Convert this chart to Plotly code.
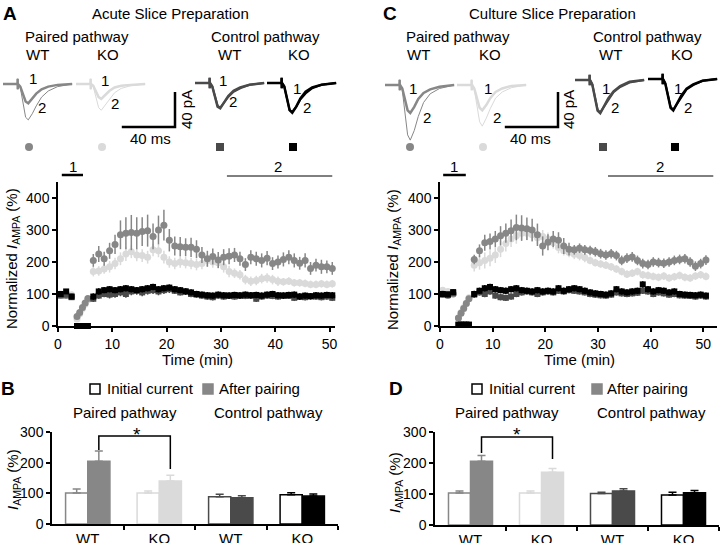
import plotly.graph_objects as go

W, H = 720, 543
FONT = 'Liberation Sans, Arial, sans-serif'
GREY = '#878787'
LIGHT = '#dadada'
DARK = '#4a4a4a'
BLACK = '#000000'

# ---- time course data (min, % of baseline) ----
T = [0.5, 1.5, 2.5, 3.5, 4.0, 4.5, 5.0, 5.5,
     6.5, 7.5, 8.5, 9.5, 10.5, 11.5, 12.5, 13.5, 14.5, 15.5, 16.5, 17.5, 18.5, 19.5, 20.5,
     21.5, 22.5, 23.5, 24.5, 25.5, 26.5, 27.5, 28.5, 29.5, 30.5, 31.5, 32.5, 33.5, 34.5,
     35.5, 36.5, 37.5, 38.5, 39.5, 40.5, 41.5, 42.5, 43.5, 44.5, 45.5, 46.5, 47.5, 48.5,
     49.5, 50.5]

# acute slices
A_WT_PAIRED = [98, 95, 92, 30, 42, 58, 72, 86,
               205, 225, 210, 235, 255, 285, 290, 292, 290, 295, 298, 280, 300, 315, 268,
               250, 248, 246, 246, 240, 222, 210, 217, 206, 215, 218, 222, 210, 192,
               215, 210, 205, 212, 195, 200, 208, 215, 205, 196, 205, 180, 190, 185, 185, 180]
A_WT_PAIRED_ERR = [8, 8, 8, 6, 6, 6, 6, 6,
                   20, 25, 22, 25, 30, 45, 50, 55, 50, 45, 50, 40, 45, 48, 35,
                   30, 30, 28, 30, 28, 25, 25, 25, 25, 25, 25, 22, 22, 20,
                   22, 22, 22, 22, 20, 20, 22, 22, 22, 20, 22, 20, 20, 22, 20, 20]
A_KO_PAIRED = [100, 96, 98, 22, 38, 55, 68, 82,
               170, 172, 178, 185, 195, 210, 225, 232, 222, 220, 215, 238, 235, 215, 200,
               195, 200, 198, 195, 192, 195, 205, 200, 198, 185, 170, 165, 160, 145,
               140, 142, 148, 150, 145, 140, 138, 140, 135, 135, 133, 130, 130, 132, 130, 132]
A_KO_PAIRED_ERR = [8, 8, 8, 5, 5, 5, 5, 5,
                   15, 15, 15, 18, 18, 20, 22, 20, 20, 20, 20, 20, 20, 20, 18,
                   18, 18, 18, 18, 18, 18, 18, 18, 18, 18, 18, 15, 15, 15,
                   15, 15, 15, 15, 15, 15, 12, 12, 12, 12, 12, 12, 12, 12, 12, 12]
A_WT_CTRL = [95, 98, 90, 0, 0, 0, 0, 0,
             85, 95, 100, 98, 100, 105, 100, 108, 110, 105, 110, 112, 108, 112, 115,
             110, 105, 108, 100, 98, 95, 92, 90, 95, 92, 95, 92, 96, 94,
             95, 85, 92, 95, 94, 92, 95, 94, 88, 92, 90, 93, 92, 90, 92, 88]
A_WT_CTRL_ERR = [8, 8, 8, 3, 3, 3, 3, 3,
                 10, 10, 10, 12, 12, 12, 12, 12, 12, 12, 12, 12, 12, 12, 12,
                 10, 10, 10, 10, 10, 10, 10, 10, 10, 10, 10, 10, 10, 10,
                 10, 10, 10, 10, 10, 10, 10, 10, 10, 10, 10, 10, 10, 10, 10, 10]
A_KO_CTRL = [100, 108, 92, 0, 0, 0, 0, 0,
             92, 108, 112, 115, 112, 115, 118, 115, 112, 115, 118, 122, 115, 118, 120,
             115, 112, 108, 105, 100, 98, 96, 95, 98, 96, 95, 97, 95, 98,
             96, 97, 95, 98, 100, 96, 95, 97, 98, 92, 95, 93, 96, 95, 97, 96]
A_KO_CTRL_ERR = [8, 8, 8, 3, 3, 3, 3, 3,
                 10, 10, 10, 10, 10, 10, 10, 10, 10, 10, 10, 10, 10, 10, 10,
                 10, 10, 10, 10, 10, 10, 10, 10, 10, 10, 10, 10, 10, 10,
                 10, 10, 10, 10, 10, 10, 10, 10, 10, 10, 10, 10, 10, 10, 10, 10]

# cultured slices
C_WT_PAIRED = [100, 95, 100, 25, 40, 55, 70, 85,
               208, 235, 260, 264, 272, 282, 290, 298, 308, 306, 304, 300, 285, 250, 262,
               272, 268, 250, 240, 238, 243, 238, 236, 232, 226, 222, 226, 220, 205,
               212, 216, 205, 195, 192, 200, 198, 196, 200, 205, 208, 210, 200, 187, 195, 206]
C_WT_PAIRED_ERR = [5, 5, 5, 5, 5, 5, 5, 5,
                   15, 20, 25, 25, 25, 30, 30, 35, 40, 40, 35, 35, 35, 30, 25,
                   25, 25, 25, 20, 15, 15, 15, 15, 15, 15, 15, 15, 15, 15,
                   15, 15, 15, 15, 15, 15, 15, 15, 15, 15, 15, 15, 15, 15, 15, 15]
C_KO_PAIRED = [112, 108, 102, 25, 42, 58, 72, 88,
               190, 198, 205, 212, 222, 240, 258, 272, 282, 290, 290, 285, 276, 280, 272,
               260, 245, 235, 230, 224, 220, 214, 205, 198, 194, 190, 185, 178, 170,
               162, 165, 170, 160, 158, 155, 152, 156, 150, 154, 158, 152, 150, 156, 160, 155]
C_KO_PAIRED_ERR = [6, 6, 6, 5, 5, 5, 5, 5,
                   20, 22, 25, 25, 25, 25, 25, 25, 25, 22, 22, 22, 20, 20, 20,
                   18, 18, 15, 15, 15, 15, 15, 12, 12, 12, 12, 12, 12, 12,
                   12, 12, 12, 12, 12, 12, 12, 12, 12, 12, 12, 12, 12, 12, 12, 12]
C_WT_CTRL = [98, 100, 103, 4, 4, 4, 4, 4,
             98, 105, 100, 108, 95, 90, 88, 92, 100, 105, 108, 105, 100, 105, 108,
             105, 110, 108, 112, 110, 108, 105, 100, 98, 96, 95, 98, 105, 102,
             100, 102, 104, 110, 108, 100, 105, 102, 98, 100, 96, 95, 94, 92, 95, 92]
C_WT_CTRL_ERR = [8, 8, 8, 3, 3, 3, 3, 3,
                 10, 10, 10, 10, 10, 10, 10, 10, 10, 10, 10, 10, 10, 10, 10,
                 10, 10, 10, 10, 10, 10, 10, 10, 10, 10, 10, 10, 10, 10,
                 10, 10, 10, 10, 10, 10, 10, 10, 10, 10, 10, 10, 10, 10, 10, 10]
C_KO_CTRL = [100, 98, 106, 4, 4, 4, 4, 4,
             100, 110, 118, 122, 115, 112, 110, 115, 118, 112, 110, 108, 112, 108, 110,
             108, 118, 110, 115, 118, 115, 110, 105, 102, 100, 98, 102, 115, 108,
             105, 108, 110, 130, 115, 108, 112, 110, 105, 108, 100, 98, 97, 96, 98, 95]
C_KO_CTRL_ERR = [8, 8, 8, 3, 3, 3, 3, 3,
                 10, 10, 10, 10, 10, 10, 10, 10, 10, 10, 10, 10, 10, 10, 10,
                 10, 10, 10, 10, 10, 10, 10, 10, 10, 10, 10, 10, 10, 10,
                 10, 10, 10, 10, 10, 10, 10, 10, 10, 10, 10, 10, 10, 10, 10, 10]

# ---- bar data: WT paired, KO paired, WT control, KO control ----
GROUP_LABELS = ['WT', 'KO', 'WT', 'KO']
B_INIT = [101, 101, 89, 95]
B_INIT_ERR = [13, 7, 8, 7]
B_AFTER = [205, 140, 86, 91]
B_AFTER_ERR = [33, 19, 6, 7]
D_INIT = [103, 103, 102, 97]
D_INIT_ERR = [7, 7, 4, 9]
D_AFTER = [206, 170, 110, 104]
D_AFTER_ERR = [18, 12, 7, 7]

# ---- example EPSC traces (ms, pA) ----
TR_T = [0, 10.9, 11.0, 11.1, 11.3, 13, 15, 17, 19, 22, 25, 29, 34, 41, 52]
A_TRACES = {
    'wt_p': ([0, 0, 6, -6, 0, -3, -12, -20, -22, -17, -11, -6, -3, -1, 0],
             [0, 0, 6, -6, 0, -4, -22, -38, -41, -34, -25, -15, -8, -3, 0]),
    'ko_p': ([0, 0, 6, -6, 0, -2, -9, -15, -17, -13, -8, -4, -2, -1, 0],
             [0, 0, 6, -6, 0, -3, -16, -27, -30, -24, -17, -10, -5, -2, 0]),
    'wt_c': ([0, 0, 6, -6, 0, -4, -17, -27, -29, -22, -15, -9, -5, -2, 0],
             [0, 0, 6, -6, 0, -4, -16, -26, -28, -22, -16, -10, -6, -2, 0]),
    'ko_c': ([0, 0, 6, -6, 0, -4, -19, -31, -34, -27, -18, -10, -5, -2, 0],
             [0, 0, 6, -6, 0, -4, -19, -31, -33, -27, -19, -12, -6, -2, 0]),
}
C_TRACES = {
    'wt_p': ([0, 0, 6, -6, 0, -4, -18, -29, -32, -25, -16, -9, -5, -2, 0],
             [0, 0, 6, -6, 0, -6, -32, -57, -63, -52, -36, -20, -10, -4, 0]),
    'ko_p': ([0, 0, 6, -6, 0, -4, -16, -26, -29, -23, -15, -8, -4, -1, 0],
             [0, 0, 6, -6, 0, -5, -25, -42, -47, -38, -27, -15, -8, -3, 0]),
    'wt_c': ([0, 0, 6, -6, 0, -5, -22, -35, -38, -30, -21, -13, -7, -2, 0],
             [0, 0, 6, -6, 0, -5, -21, -34, -37, -30, -22, -14, -8, -3, 0]),
    'ko_c': ([0, 0, 6, -6, 0, -5, -21, -33, -36, -28, -19, -11, -6, -2, 0],
             [0, 0, 6, -6, 0, -5, -20, -32, -35, -28, -20, -12, -7, -2, 0]),
}
SCALE_MS = 40
SCALE_PA = 40

COLORS = {'wt_p': GREY, 'ko_p': LIGHT, 'wt_c': DARK, 'ko_c': BLACK}
SYMBOLS = {'wt_p': 'circle', 'ko_p': 'circle', 'wt_c': 'square', 'ko_c': 'square'}


def fx(p):
    return p / W


def fy(p):
    return 1 - p / H


fig = go.Figure()
annotations = []
shapes = []


def label(text, x, y, size=15, angle=0, anchor='center', **kw):
    annotations.append(dict(text=text, x=fx(x), y=fy(y), xref='paper', yref='paper',
                            showarrow=False, textangle=angle, xanchor=anchor, yanchor='middle',
                            font=dict(size=size, color='black', family=FONT), **kw))


# time courses
def time_course(series, xa, ya):
    for vals, errs, key in series:
        fig.add_trace(go.Scatter(
            x=T, y=vals, mode='markers', xaxis=xa, yaxis=ya, cliponaxis=False,
            marker=dict(color=COLORS[key], symbol=SYMBOLS[key], size=7 if key.endswith('p') else 6),
            error_y=dict(type='data', array=errs, color=COLORS[key], thickness=1.5, width=0)))


time_course([(A_KO_PAIRED, A_KO_PAIRED_ERR, 'ko_p'), (A_WT_PAIRED, A_WT_PAIRED_ERR, 'wt_p'),
             (A_WT_CTRL, A_WT_CTRL_ERR, 'wt_c'), (A_KO_CTRL, A_KO_CTRL_ERR, 'ko_c')], 'x', 'y')
time_course([(C_KO_PAIRED, C_KO_PAIRED_ERR, 'ko_p'), (C_WT_PAIRED, C_WT_PAIRED_ERR, 'wt_p'),
             (C_WT_CTRL, C_WT_CTRL_ERR, 'wt_c'), (C_KO_CTRL, C_KO_CTRL_ERR, 'ko_c')], 'x2', 'y2')


# bar charts
def bars(init, init_err, after, after_err, xa, ya, bracket, star_px):
    keys = ['wt_p', 'ko_p', 'wt_c', 'ko_c']
    for i, key in enumerate(keys):
        c = i + 0.5
        col = COLORS[key]
        fig.add_trace(go.Bar(
            x=[c - 0.155, c + 0.155], y=[init[i], after[i]], width=0.31,
            xaxis=xa, yaxis=ya,
            marker=dict(color=['white', col], line=dict(color=col, width=1.5)),
            error_y=dict(type='data', symmetric=False, array=[init_err[i], after_err[i]],
                         arrayminus=[0, 0], color=col, thickness=1.5, width=4)))
    # significance bracket between the two paired "after" bars
    left, top, right = bracket
    fig.add_trace(go.Scatter(x=[0.655, 0.655, 1.655, 1.655], y=[left, top, top, right],
                             mode='lines', line=dict(color='black', width=1.5),
                             xaxis=xa, yaxis=ya, cliponaxis=False))
    label('*', star_px[0], star_px[1], size=19)


bars(B_INIT, B_INIT_ERR, B_AFTER, B_AFTER_ERR, 'x3', 'y3', (241, 287, 179), (137, 434))
bars(D_INIT, D_INIT_ERR, D_AFTER, D_AFTER_ERR, 'x4', 'y4', (232, 284, 213), (517, 434))

# example traces in two strip axes (x in ms, y in pA)
PXMS, PXPA = 1.33, 0.875
STRIP_TOP, STRIP_BOT, STRIP_BASE = 60, 160, 84


def strip(traces, xa, ya, x0, starts, corner, markers):
    for key, (start_px, base_px) in starts.items():
        t1, t2 = traces[key]
        dx = (start_px - x0) / PXMS
        dy = (STRIP_BASE - base_px) / PXPA
        paired = key.endswith('p')
        fig.add_trace(go.Scatter(x=[t + dx for t in TR_T], y=[v + dy for v in t2], mode='lines',
                                 line=dict(color=COLORS[key], width=1 if paired else 2),
                                 xaxis=xa, yaxis=ya))
        fig.add_trace(go.Scatter(x=[t + dx for t in TR_T], y=[v + dy for v in t1], mode='lines',
                                 line=dict(color=COLORS[key], width=2.5), xaxis=xa, yaxis=ya))
        mx, my = markers[key]
        fig.add_trace(go.Scatter(x=[(mx - x0) / PXMS], y=[(STRIP_BASE - my) / PXPA], mode='markers',
                                 marker=dict(color=COLORS[key], symbol=SYMBOLS[key], size=8),
                                 xaxis=xa, yaxis=ya, cliponaxis=False))
    cx = (corner[0] - x0) / PXMS
    cy = (STRIP_BASE - corner[1]) / PXPA
    fig.add_trace(go.Scatter(x=[cx - SCALE_MS, cx, cx], y=[cy, cy, cy + SCALE_PA], mode='lines',
                             line=dict(color='black', width=2.5), xaxis=xa, yaxis=ya))


strip(A_TRACES, 'x5', 'y5', 0,
      {'wt_p': (3, 84), 'ko_p': (76, 84), 'wt_c': (195, 83), 'ko_c': (267, 83)}, (175, 127),
      {'wt_p': (29, 147), 'ko_p': (102, 147), 'wt_c': (220, 147), 'ko_c': (293, 147)})
strip(C_TRACES, 'x6', 'y6', 360,
      {'wt_p': (385, 85), 'ko_p': (457, 85), 'wt_c': (575, 80), 'ko_c': (648, 79)}, (558, 127),
      {'wt_p': (410, 147), 'ko_p': (483, 147), 'wt_c': (603, 147), 'ko_c': (675, 147)})

# ---- text ----
label('<b>A</b>', 10, 13, 19)
label('<b>C</b>', 390, 13, 19)
label('<b>B</b>', 8, 388, 19)
label('<b>D</b>', 396, 388, 19)
label('Acute Slice Preparation', 170, 13)
label('Culture Slice Preparation', 552, 13)
for (txt, x, y) in [('Paired pathway', 77, 36), ('Control pathway', 265, 36),
                    ('Paired pathway', 458, 36), ('Control pathway', 647, 36),
                    ('WT', 37, 55), ('KO', 108, 55), ('WT', 229, 55), ('KO', 299, 55),
                    ('WT', 418, 55), ('KO', 490, 55), ('WT', 610, 55), ('KO', 682, 55),
                    ('1', 33, 79), ('2', 42, 107), ('1', 105, 80), ('2', 115, 104),
                    ('1', 223, 80), ('2', 233, 102), ('1', 297, 88), ('2', 307, 107),
                    ('1', 413, 88), ('2', 427, 117), ('1', 488, 88), ('2', 497, 117),
                    ('1', 606, 88), ('2', 615, 108), ('1', 678, 88), ('2', 688, 108),
                    ('40 ms', 150, 138), ('40 ms', 530, 138),
                    ('1', 73, 166), ('2', 278, 166), ('1', 454, 166), ('2', 660, 166),
                    ('Time (min)', 197, 359), ('Time (min)', 579, 359),
                    ('Paired pathway', 125, 412), ('Control pathway', 268, 412),
                    ('Paired pathway', 507, 412), ('Control pathway', 651, 412)]:
    label(txt, x, y)
label('40 pA', 186, 110, angle=-90)
label('40 pA', 568, 110, angle=-90)
label('Normalized <i>I</i><sub>AMPA</sub> (%)', 12, 259, angle=-90)
label('Normalized <i>I</i><sub>AMPA</sub> (%)', 393, 259, angle=-90)
label('<i>I</i><sub>AMPA</sub> (%)', 13, 480, angle=-90)
label('<i>I</i><sub>AMPA</sub> (%)', 395, 483, angle=-90)

# legends of the bar charts
for (sx, tx, fill, line, txt) in [(90, 105, 'white', 'black', 'Initial current'),
                                  (203, 217, GREY, GREY, 'After pairing'),
                                  (472, 487, 'white', 'black', 'Initial current'),
                                  (592, 605, GREY, GREY, 'After pairing')]:
    shapes.append(dict(type='rect', xref='paper', yref='paper', x0=fx(sx), x1=fx(sx + 10),
                       y0=fy(394), y1=fy(384), fillcolor=fill, line=dict(color=line, width=1.5)))
    label(txt, tx, 389, anchor='left')

# period bars "1" and "2" above the time courses
for (xa, a0, a1, b0, b1) in [('x', 0.7, 4.6, 31.1, 50.5), ('x2', 0.6, 4.9, 31.9, 51.9)]:
    shapes.append(dict(type='line', xref=xa, yref='paper', x0=a0, x1=a1, y0=fy(175), y1=fy(175),
                       line=dict(color='black', width=2.5)))
    shapes.append(dict(type='line', xref=xa, yref='paper', x0=b0, x1=b1, y0=fy(176), y1=fy(176),
                       line=dict(color='black', width=1)))

axis_style = dict(showline=True, linecolor='black', linewidth=1.5, ticks='outside', ticklen=4,
                  tickwidth=1.5, tickcolor='black', showgrid=False, zeroline=False,
                  automargin=False, fixedrange=True,
                  tickfont=dict(size=14, family=FONT, color='black'))
bar_x = dict(axis_style, ticks='', tickvals=[0.5, 1.5, 2.5, 3.5], ticktext=GROUP_LABELS,
             tickfont=dict(size=15, family=FONT, color='black'),
             minor=dict(tickvals=[1, 2, 3, 4], ticks='outside', ticklen=4, tickwidth=1.5,
                        tickcolor='black'))
hidden = dict(visible=False, fixedrange=True, automargin=False)

fig.update_layout(
    width=W, height=H, autosize=False, showlegend=False,
    margin=dict(l=0, r=0, t=0, b=0, pad=0),
    paper_bgcolor='white', plot_bgcolor='white', barmode='overlay',
    font=dict(family=FONT, color='black'),
    xaxis=dict(axis_style, domain=[fx(58), fx(335)], range=[0, 51], anchor='y',
               tickvals=[0, 10, 20, 30, 40, 50]),
    yaxis=dict(axis_style, domain=[fy(326), fy(182)], range=[0, 450], anchor='x',
               tickvals=[0, 100, 200, 300, 400]),
    xaxis2=dict(axis_style, domain=[fx(440), fx(717)], range=[0, 52.6], anchor='y2',
                tickvals=[0, 10, 20, 30, 40, 50]),
    yaxis2=dict(axis_style, domain=[fy(326), fy(182)], range=[0, 450], anchor='x2',
                tickvals=[0, 100, 200, 300, 400]),
    xaxis3=dict(bar_x, domain=[fx(52), fx(338)], range=[0, 4], anchor='y3'),
    yaxis3=dict(axis_style, domain=[fy(524), fy(432)], range=[0, 300], anchor='x3',
                tickvals=[0, 100, 200, 300]),
    xaxis4=dict(bar_x, domain=[fx(435), fx(719)], range=[0, 4], anchor='y4'),
    yaxis4=dict(axis_style, domain=[fy(525), fy(432)], range=[0, 300], anchor='x4',
                tickvals=[0, 100, 200, 300]),
    xaxis5=dict(hidden, domain=[0, fx(345)], range=[0, 345 / PXMS], anchor='y5'),
    yaxis5=dict(hidden, domain=[fy(STRIP_BOT), fy(STRIP_TOP)],
                range=[-(STRIP_BOT - STRIP_BASE) / PXPA, (STRIP_BASE - STRIP_TOP) / PXPA], anchor='x5'),
    xaxis6=dict(hidden, domain=[fx(360), 1], range=[0, 360 / PXMS], anchor='y6'),
    yaxis6=dict(hidden, domain=[fy(STRIP_BOT), fy(STRIP_TOP)],
                range=[-(STRIP_BOT - STRIP_BASE) / PXPA, (STRIP_BASE - STRIP_TOP) / PXPA], anchor='x6'),
    annotations=annotations,
    shapes=shapes,
)

# the page body has a default 8px margin; drop it so the figure fills the window
fig.write_html("out.html", config={'displayModeBar': False},
               post_script="document.body.style.margin='0';")
